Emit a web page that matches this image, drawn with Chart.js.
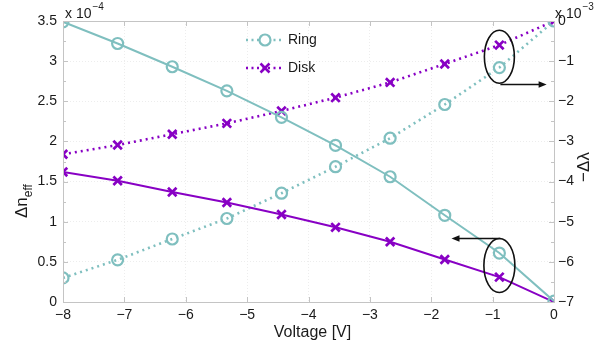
<!DOCTYPE html>
<html><head><meta charset="utf-8">
<script src="https://cdn.jsdelivr.net/npm/chart.js@4/dist/chart.umd.min.js"></script>
<style>html,body{margin:0;padding:0;background:#fff}#wrap{width:604px;height:345px;position:relative}</style>
</head><body><div id="wrap"><canvas id="c" width="604" height="345"></canvas></div>
<script>
const voltage=[-8,-7.11,-6.22,-5.33,-4.44,-3.56,-2.67,-1.78,-0.89,0];
const ringDn=[3.49,3.22,2.93,2.63,2.30,1.95,1.56,1.08,0.61,0.01];
const diskDn=[1.62,1.51,1.37,1.24,1.09,0.93,0.75,0.53,0.31,0.0];
const ringDl=[-6.40,-5.95,-5.43,-4.92,-4.29,-3.63,-2.92,-2.08,-1.16,0];
const diskDl=[-3.32,-3.09,-2.82,-2.55,-2.24,-1.91,-1.53,-1.07,-0.60,0];
const xTicks=[-8,-7,-6,-5,-4,-3,-2,-1,0];
const leftTicks=[0,0.5,1,1.5,2,2.5,3,3.5];
const rightTicks=[-7,-6,-5,-4,-3,-2,-1,0];
const leftMinor=[0.25,0.75,1.25,1.75,2.25,2.75,3.25];
const rightMinor=[-6.5,-5.5,-4.5,-3.5,-2.5,-1.5,-0.5];
const seriesNames=['Ring','Disk'];

const RING='#7fbfbf', DISK='#8800c4', AX='#c4c4c4', TXT='#1a1a1a', GRID='#ededed';
const FONT='"Liberation Sans", Arial, sans-serif';
const fmt=v=>v<0?'\u2212'+Math.abs(v):String(v);
const pts=(xs,ys)=>xs.map((x,i)=>({x:x,y:ys[i]}));

const overlay={
  id:'overlay',
  afterDatasetsDraw(chart){
    const c=chart.ctx, a=chart.chartArea, sx=chart.scales.x, sy=chart.scales.y, sy2=chart.scales.y2;
    c.save();
    c.strokeStyle=AX; c.lineWidth=1;
    c.strokeRect(Math.round(a.left)+0.5,Math.round(a.top)+0.5,Math.round(a.right-a.left),Math.round(a.bottom-a.top));
    c.beginPath();
    xTicks.forEach(v=>{const p=Math.round(sx.getPixelForValue(v))+0.5;c.moveTo(p,a.bottom);c.lineTo(p,a.bottom-5);c.moveTo(p,a.top);c.lineTo(p,a.top+5);});
    leftTicks.forEach(v=>{const p=Math.round(sy.getPixelForValue(v))+0.5;c.moveTo(a.left,p);c.lineTo(a.left+5,p);});
    leftMinor.forEach(v=>{const p=Math.round(sy.getPixelForValue(v))+0.5;c.moveTo(a.left,p);c.lineTo(a.left+3,p);});
    rightTicks.forEach(v=>{const p=Math.round(sy2.getPixelForValue(v))+0.5;c.moveTo(a.right,p);c.lineTo(a.right-5,p);});
    rightMinor.forEach(v=>{const p=Math.round(sy2.getPixelForValue(v))+0.5;c.moveTo(a.right,p);c.lineTo(a.right-3,p);});
    c.stroke();
    c.fillStyle=TXT; c.textBaseline='alphabetic'; c.textAlign='left';
    c.font='14px '+FONT; c.fillText('x 10',a.left+2,18);
    let w=c.measureText('x 10').width;
    c.font='10px '+FONT; c.fillText('\u22124',a.left+2+w+1,10);
    c.font='14px '+FONT; c.fillText('x 10',a.right+1,18);
    w=c.measureText('x 10').width;
    c.font='10px '+FONT; c.fillText('\u22123',a.right+1+w+1,10);
    c.save(); c.translate(27,190); c.rotate(-Math.PI/2);
    c.font='17px '+FONT; c.textAlign='left'; c.fillText('\u0394n',-28,0);
    let w2=c.measureText('\u0394n').width;
    c.font='12px '+FONT; c.fillText('eff',-28+w2,5);
    c.restore();
    c.save(); c.translate(589,167); c.rotate(-Math.PI/2);
    c.font='17px '+FONT; c.textAlign='center'; c.fillText('\u2212\u0394\u03bb',0,0);
    c.restore();
    c.font='16px '+FONT; c.textAlign='center'; c.fillText('Voltage [V]',(a.left+a.right)/2+4,337);
    const leg=[[RING,'circle',40,seriesNames[0]],[DISK,'cross',68,seriesNames[1]]];
    leg.forEach(([col,shape,y,lab])=>{
      c.strokeStyle=col; c.lineWidth=2.5; c.setLineDash([2,3.5]);
      c.beginPath(); c.moveTo(246,y); c.lineTo(284,y); c.stroke(); c.setLineDash([]);
      c.lineWidth=2.2;
      if(shape==='circle'){c.beginPath();c.arc(265,y,5.5,0,Math.PI*2);c.fillStyle='#fff';c.fill();c.stroke();}
      else{c.lineWidth=2.6;c.beginPath();c.moveTo(260.5,y-4.5);c.lineTo(269.5,y+4.5);c.moveTo(269.5,y-4.5);c.lineTo(260.5,y+4.5);c.stroke();}
      c.fillStyle=TXT; c.font='14px '+FONT; c.textAlign='left'; c.textBaseline='middle'; c.fillText(lab,288,y);
    });
    c.strokeStyle='#111'; c.fillStyle='#111'; c.lineWidth=1.6;
    const ex=sx.getPixelForValue(-0.89);
    const ey1=sy2.getPixelForValue(-0.89), ey2=sy.getPixelForValue(0.455);
    c.beginPath(); c.ellipse(ex,ey1,15,26.5,0,0,Math.PI*2); c.stroke();
    c.beginPath(); c.ellipse(ex,ey2,15.5,27,0,0,Math.PI*2); c.stroke();
    const arrow=(x0,y,x1)=>{
      const d=Math.sign(x1-x0);
      c.beginPath(); c.moveTo(x0,y); c.lineTo(x1-d*7,y); c.stroke();
      c.beginPath(); c.moveTo(x1,y); c.lineTo(x1-d*8,y-3.2); c.lineTo(x1-d*8,y+3.2); c.closePath(); c.fill();
    };
    const ay1=Math.round(sy2.getPixelForValue(-1.57))+0.5, ay2=Math.round(sy.getPixelForValue(0.80))+0.5;
    arrow(ex+1,ay1,sx.getPixelForValue(-0.12));
    arrow(ex+1,ay2,sx.getPixelForValue(-1.67));
    c.restore();
  }
};

new Chart(document.getElementById('c'),{
  type:'line',
  data:{datasets:[
    {label:'Ring Δn',data:pts(voltage,ringDn),yAxisID:'y',borderColor:RING,backgroundColor:'rgba(255,255,255,0)',borderWidth:2,pointStyle:'circle',pointRadius:5.5,pointBorderWidth:2.2,pointBorderColor:RING,tension:0},
    {label:'Disk Δn',data:pts(voltage,diskDn),yAxisID:'y',borderColor:DISK,backgroundColor:DISK,borderWidth:2,pointStyle:'crossRot',pointRadius:6,pointBorderWidth:2.7,pointBorderColor:DISK,tension:0},
    {label:'Ring Δλ',data:pts(voltage,ringDl),yAxisID:'y2',borderColor:RING,backgroundColor:'rgba(255,255,255,0)',borderWidth:2.6,borderDash:[2,4],pointStyle:'circle',pointRadius:5.5,pointBorderWidth:2.2,pointBorderColor:RING,tension:0},
    {label:'Disk Δλ',data:pts(voltage,diskDl),yAxisID:'y2',borderColor:DISK,backgroundColor:DISK,borderWidth:2.6,borderDash:[2,4],pointStyle:'crossRot',pointRadius:6,pointBorderWidth:2.7,pointBorderColor:DISK,tension:0}
  ]},
  options:{
    responsive:false, animation:false, devicePixelRatio:1,
    layout:{padding:{left:0,right:0,top:21,bottom:0}},
    plugins:{legend:{display:false},tooltip:{enabled:false}},
    scales:{
      x:{type:'linear',min:-8,max:0,
        afterBuildTicks:s=>{s.ticks=xTicks.map(v=>({value:v}));},
        afterFit:s=>{s.height=43;},
        ticks:{callback:fmt,color:TXT,font:{family:FONT,size:14},padding:5,maxRotation:0,autoSkip:false},
        grid:{color:GRID,drawTicks:false},border:{color:AX,dash:[1,2]}},
      y:{type:'linear',position:'left',min:0,max:3.5,
        afterBuildTicks:s=>{s.ticks=leftTicks.map(v=>({value:v}));},
        afterFit:s=>{s.width=63;},
        ticks:{callback:fmt,color:TXT,font:{family:FONT,size:14},padding:6,autoSkip:false},
        grid:{color:GRID,drawTicks:false},border:{color:AX,dash:[1,2]}},
      y2:{type:'linear',position:'right',min:-7,max:0,
        afterBuildTicks:s=>{s.ticks=rightTicks.map(v=>({value:v}));},
        afterFit:s=>{s.width=50;},
        ticks:{callback:fmt,color:TXT,font:{family:FONT,size:14},padding:4,autoSkip:false},
        grid:{display:false,drawTicks:false},border:{color:AX}}
    }
  },
  plugins:[overlay]
});
</script></body></html>
